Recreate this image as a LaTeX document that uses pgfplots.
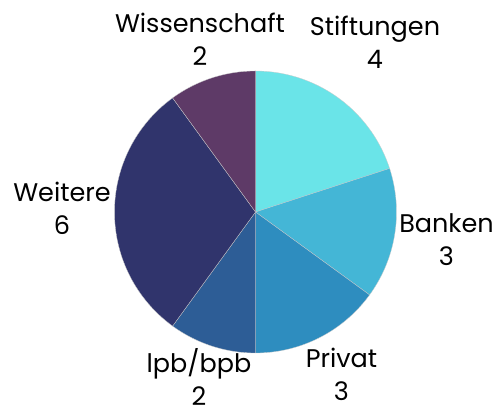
\documentclass[border=0pt]{standalone}
\usepackage{fontspec}
\setmainfont{Poppins}
\usepackage{pgfplots}
\pgfplotsset{compat=1.18}
\definecolor{cA}{HTML}{6AE4E8}
\definecolor{cB}{HTML}{44B6D6}
\definecolor{cC}{HTML}{2E8DBF}
\definecolor{cD}{HTML}{2D5D96}
\definecolor{cE}{HTML}{30346C}
\definecolor{cF}{HTML}{5E3A67}
\begin{document}
\begin{tikzpicture}
\begin{axis}[
  scale only axis, width=495pt, height=411pt,
  xmin=-255.5, xmax=239.5, ymin=-199, ymax=212,
  hide axis, clip=false,
  every axis plot/.append style={draw=white!60!gray, line width=0.3pt, samples=60, variable=\t},
]
\path (rel axis cs:0,0) rectangle (rel axis cs:1,1);
% values: Stiftungen 4, Banken 3, Privat 3, lpb/bpb 2, Weitere 6, Wissenschaft 2 (total 20, 18 deg each)
\addplot[fill=cA, domain=90:18]   ({141*cos(\t)},{141*sin(\t)}) -- (0,0) -- cycle;
\addplot[fill=cB, domain=18:-36]  ({141*cos(\t)},{141*sin(\t)}) -- (0,0) -- cycle;
\addplot[fill=cC, domain=-36:-90] ({141*cos(\t)},{141*sin(\t)}) -- (0,0) -- cycle;
\addplot[fill=cD, domain=-90:-126]({141*cos(\t)},{141*sin(\t)}) -- (0,0) -- cycle;
\addplot[fill=cE, domain=-126:-234]({141*cos(\t)},{141*sin(\t)}) -- (0,0) -- cycle;
\addplot[fill=cF, domain=-234:-270]({141*cos(\t)},{141*sin(\t)}) -- (0,0) -- cycle;
\begin{scope}[every node/.style={align=center, font=\fontsize{25.5}{33}\selectfont, text=black, inner sep=0pt}]
\node at (-55.5,173) {Wissenschaft\\2};
\node at (119.5,169.5) {Stiftungen\\4};
\node at (191,-28) {Banken\\3};
\node at (86,-162) {Privat\\3};
\node at (-56.5,-165) {lpb/bpb\\2};
\node at (-193.5,4) {Weitere\\6};
\end{scope}
\end{axis}
\end{tikzpicture}
\end{document}
